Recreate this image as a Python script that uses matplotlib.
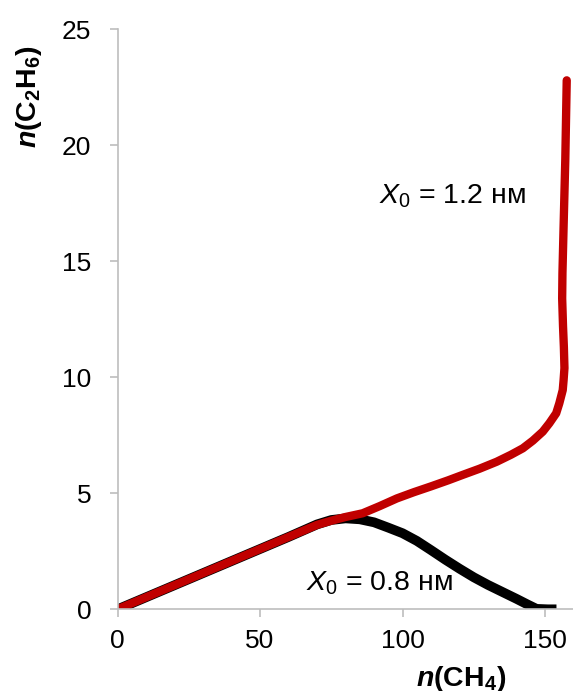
import matplotlib
matplotlib.use("Agg")
import matplotlib.pyplot as plt

plt.rcParams['font.family'] = ['Liberation Sans', 'DejaVu Sans']
plt.rcParams['mathtext.fontset'] = 'custom'
plt.rcParams['mathtext.rm'] = 'Liberation Sans'
plt.rcParams['mathtext.it'] = 'Liberation Sans:italic'
plt.rcParams['mathtext.bf'] = 'Liberation Sans:bold'
plt.rcParams['mathtext.bfit'] = 'Liberation Sans:italic:bold'

# X0 = 0.8 nm
ch4_08 = [0, 20, 40, 60, 70, 75, 80, 85, 90, 95, 100, 105, 110, 115, 120,
          125, 130, 135, 140, 144, 147, 151, 154]
c2h6_08 = [0, 1.04, 2.08, 3.12, 3.66, 3.85, 3.92, 3.88, 3.75, 3.52, 3.28,
           2.95, 2.55, 2.14, 1.75, 1.38, 1.05, 0.75, 0.45, 0.2, 0.02, 0.0, 0.0]

# X0 = 1.2 nm
ch4_12 = [0, 20, 40, 60, 70, 75, 80, 86, 92, 98, 104, 110, 116, 121, 127,
          133, 138, 142.2, 145.7, 149.2, 151.5, 153.9, 155.0, 156.2, 156.5,
          156.8, 156.6, 156.3, 156.0, 156.1, 156.5, 157.1, 157.6]
c2h6_12 = [0, 1.04, 2.08, 3.12, 3.64, 3.82, 3.98, 4.14, 4.45, 4.78, 5.05,
           5.3, 5.56, 5.79, 6.06, 6.36, 6.66, 6.94, 7.27, 7.66, 8.02, 8.45,
           8.88, 9.45, 9.88, 10.4, 11.3, 12.2, 13.4, 14.5, 16.5, 19.4, 22.8]

fig = plt.figure(figsize=(5.73, 6.91), dpi=100)
ax = fig.add_axes([0.2051, 0.1182, 0.7949, 0.8394])

ax.plot(ch4_08, c2h6_08, color='black', lw=7, solid_capstyle='butt',
        solid_joinstyle='round')
ax.plot(ch4_12, c2h6_12, color='#c00000', lw=6, solid_capstyle='round',
        solid_joinstyle='round')

ax.set_xlim(0, 159.8)
ax.set_ylim(0, 25)
ax.set_xticks([0, 50, 100, 150])
ax.set_yticks([0, 5, 10, 15, 20, 25])

for side in ['top', 'right']:
    ax.spines[side].set_visible(False)
for side in ['left', 'bottom']:
    ax.spines[side].set_color('#bdbdbd')
    ax.spines[side].set_linewidth(1.2)
ax.tick_params(axis='both', direction='out', length=6, width=1.2,
               color='#bdbdbd', labelsize=19, labelcolor='black')
ax.tick_params(axis='x', pad=8)
ax.tick_params(axis='y', pad=13)

ax.text(91.9, 17.5, r'$X_0$ = 1.2 нм', fontsize=20.5, ha='left', va='baseline')
ax.text(66.2, 0.83, r'$X_0$ = 0.8 нм', fontsize=20.5, ha='left', va='baseline')

fig.text(461 / 573, 1 - 685.5 / 691, r'$\mathbfit{n}\mathbf{(CH_4)}$',
         fontsize=20.5, ha='center', va='baseline')
fig.text(29 / 573, 1 - 96.5 / 691, r'$\mathbfit{n}\mathbf{(C_2H_6)}$',
         fontsize=20.5, ha='center', va='center', rotation=90)

fig.savefig('out.png', dpi=100)
